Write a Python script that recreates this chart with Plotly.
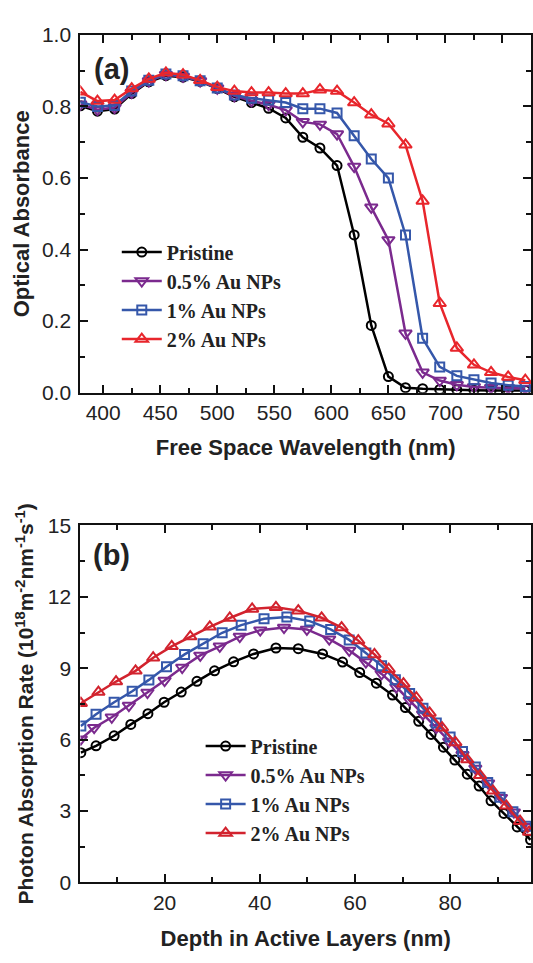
import plotly.graph_objects as go

W, H = 533, 963

# ---------------- Panel (a) data ----------------
wavelength = [380, 395, 410, 425, 440, 455, 470, 485, 500, 515, 530, 545, 560, 575,
              590, 605, 620, 635, 650, 665, 680, 695, 710, 725, 740, 755, 770]
abs_pristine = [0.802, 0.787, 0.793, 0.836, 0.869, 0.886, 0.882, 0.870, 0.850, 0.827,
                0.811, 0.795, 0.768, 0.714, 0.684, 0.635, 0.441, 0.188, 0.045, 0.014,
                0.011, 0.009, 0.008, 0.007, 0.006, 0.006, 0.006]
abs_05 = [0.806, 0.791, 0.797, 0.839, 0.871, 0.889, 0.884, 0.871, 0.851, 0.830,
          0.816, 0.805, 0.790, 0.757, 0.750, 0.723, 0.632, 0.518, 0.427, 0.166,
          0.057, 0.034, 0.022, 0.016, 0.014, 0.013, 0.012]
abs_1 = [0.812, 0.800, 0.803, 0.843, 0.873, 0.891, 0.886, 0.872, 0.852, 0.832,
         0.823, 0.818, 0.811, 0.794, 0.794, 0.782, 0.718, 0.653, 0.600, 0.441,
         0.152, 0.072, 0.047, 0.036, 0.027, 0.021, 0.017]
abs_2 = [0.841, 0.815, 0.818, 0.850, 0.877, 0.894, 0.889, 0.873, 0.854, 0.843,
         0.839, 0.839, 0.836, 0.836, 0.847, 0.843, 0.811, 0.777, 0.752, 0.693,
         0.536, 0.250, 0.125, 0.078, 0.057, 0.044, 0.035]

# ---------------- Panel (b) data ----------------
depth_pristine = [2.4, 5.6, 9.4, 12.9, 16.5, 19.9, 23.5, 26.8, 30.5, 34.5, 38.7, 43.4,
                  48.1, 53.2, 57.4, 61.0, 64.5, 67.9, 70.6, 73.4, 76.0, 78.6, 81.0,
                  83.6, 86.1, 88.6, 91.3, 94.1, 96.9]
rate_pristine = [5.45, 5.74, 6.16, 6.64, 7.09, 7.57, 8.00, 8.45, 8.89, 9.27, 9.60, 9.85,
                 9.82, 9.60, 9.26, 8.82, 8.37, 7.87, 7.35, 6.77, 6.22, 5.68, 5.14,
                 4.55, 4.05, 3.43, 2.90, 2.33, 1.79]
depth_05 = [2.4, 5.2, 8.9, 12.5, 16.4, 20.0, 23.7, 27.5, 31.6, 35.8, 40.1, 45.1, 49.9,
            54.6, 58.8, 62.3, 65.6, 68.7, 71.5, 74.3, 77.1, 79.8, 82.6, 85.3, 88.0,
            90.7, 93.4, 96.2]
rate_05 = [6.02, 6.50, 6.94, 7.43, 7.98, 8.48, 9.03, 9.54, 9.92, 10.33, 10.60, 10.71,
           10.63, 10.22, 9.75, 9.26, 8.76, 8.21, 7.66, 7.07, 6.50, 5.93, 5.36, 4.79,
           4.17, 3.56, 2.95, 2.34]
depth_1 = [2.4, 5.6, 9.4, 13.2, 16.7, 20.4, 24.2, 28.1, 32.1, 36.1, 40.9, 45.7, 50.5,
           54.9, 58.8, 62.3, 65.6, 68.5, 71.5, 74.3, 77.1, 80.0, 82.6, 85.3, 87.9,
           90.5, 93.2, 96.0]
rate_1 = [6.57, 7.07, 7.57, 8.03, 8.51, 9.06, 9.58, 10.03, 10.49, 10.81, 11.08, 11.15,
          10.98, 10.63, 10.19, 9.64, 9.10, 8.52, 7.94, 7.32, 6.70, 6.11, 5.50, 4.85,
          4.20, 3.58, 2.97, 2.36]
depth_2 = [2.4, 6.1, 9.8, 13.9, 17.6, 21.5, 25.4, 29.5, 33.7, 38.4, 43.4, 48.1, 53.0,
           57.2, 60.7, 64.1, 67.1, 70.2, 72.9, 75.7, 78.3, 81.1, 83.6, 86.3, 89.0,
           91.8, 94.7, 96.6]
rate_2 = [7.53, 8.00, 8.44, 8.89, 9.44, 9.92, 10.33, 10.74, 11.11, 11.49, 11.56, 11.42,
          11.12, 10.71, 10.16, 9.58, 8.96, 8.35, 7.76, 7.12, 6.50, 5.88, 5.16, 4.50,
          3.85, 3.22, 2.57, 2.12]

names = ["Pristine", "0.5% Au NPs", "1% Au NPs", "2% Au NPs"]
colors = ["#000000", "#7B2A8E", "#3557AA", "#E8262C"]
colors_b = ["#000000", "#7B2A8E", "#3557AA", "#D2232E"]
symbols = ["circle-open", "triangle-down-open", "square-open", "triangle-up-open"]
msizes = [9, 11, 9, 11]

series_a = [abs_pristine, abs_05, abs_1, abs_2]
series_b = [(depth_pristine, rate_pristine), (depth_05, rate_05),
            (depth_1, rate_1), (depth_2, rate_2)]

fig = go.Figure()
for i in range(4):
    fig.add_trace(go.Scatter(
        x=wavelength, y=series_a[i], name=names[i], mode="lines+markers",
        xaxis="x", yaxis="y", legend="legend",
        line=dict(color=colors[i], width=2.5),
        marker=dict(symbol=symbols[i], size=msizes[i], color=colors[i],
                    line=dict(width=2, color=colors[i]))))
for i in range(4):
    xs, ys = series_b[i]
    fig.add_trace(go.Scatter(
        x=xs, y=ys, name=names[i], mode="lines+markers",
        xaxis="x2", yaxis="y2", legend="legend2",
        line=dict(color=colors_b[i], width=2.5),
        marker=dict(symbol=symbols[i], size=msizes[i], color=colors_b[i],
                    line=dict(width=2, color=colors_b[i]))))

def pxx(x):
    return x / W

def pyy(y):
    return 1 - y / H

tickfont = dict(family="Liberation Sans, Arial", size=21, color="#222222")
titlefont = dict(family="Liberation Sans, Arial", size=22, color="#222222", weight="bold")
legfont = dict(family="Liberation Serif, Times New Roman", size=20, color="#222222",
               weight="bold")

def axis_common():
    return dict(showline=True, linewidth=2, linecolor="#111111", mirror="ticks",
                ticks="inside", ticklen=8, tickwidth=2, tickcolor="#111111",
                showgrid=False, zeroline=False, tickfont=tickfont)

def minor(dt):
    return dict(dtick=dt, tick0=0, ticks="inside", ticklen=5, tickwidth=2,
                tickcolor="#111111")

xdom = [pxx(80.5), pxx(532)]

fig.update_layout(
    width=W, height=H, margin=dict(l=0, r=0, t=0, b=0),
    paper_bgcolor="white", plot_bgcolor="white",
    xaxis=dict(**axis_common(), domain=xdom, anchor="y", range=[380, 775],
               tickmode="array", tickvals=[400, 450, 500, 550, 600, 650, 700, 750],
               minor=minor(25),
               title=dict(text="Free Space Wavelength (nm)", font=titlefont, standoff=17)),
    yaxis=dict(**axis_common(), domain=[pyy(390), pyy(23.5)], anchor="x", range=[0, 1.0],
               dtick=0.2, tick0=0, tickformat=".1f", ticklabelstandoff=3,
               minor=minor(0.1),
               title=dict(text="Optical Absorbance", font=titlefont, standoff=6)),
    xaxis2=dict(**axis_common(), domain=xdom, anchor="y2", range=[2.3, 97],
                tickmode="array", tickvals=[20, 40, 60, 80],
                minor=minor(10),
                title=dict(text="Depth in Active Layers (nm)", font=titlefont, standoff=18)),
    yaxis2=dict(**axis_common(), domain=[pyy(891.7), pyy(526)], anchor="x2", range=[0, 15],
                dtick=3, tick0=0, ticklabelstandoff=3,
                minor=minor(1.5),
                title=dict(text="Photon Absorption Rate (10<sup>18</sup>m<sup>-2</sup>nm<sup>-1</sup>s<sup>-1</sup>)",
                           font=dict(family="Liberation Sans, Arial", size=21,
                                     color="#222222", weight="bold"), standoff=8)),
    legend=dict(x=pxx(117), y=pyy(226), xanchor="left", yanchor="top",
                bgcolor="rgba(0,0,0,0)", itemwidth=40, tracegroupgap=0, font=legfont),
    legend2=dict(x=pxx(201), y=pyy(732), xanchor="left", yanchor="top",
                 bgcolor="rgba(0,0,0,0)", itemwidth=40, tracegroupgap=0, font=legfont),
    annotations=[
        dict(text="(a)", x=pxx(112), y=pyy(58), xref="paper", yref="paper",
             showarrow=False, xanchor="center", yanchor="middle",
             font=dict(family="Liberation Sans, Arial", size=29, color="#222222",
                       weight="bold")),
        dict(text="(b)", x=pxx(112), y=pyy(556), xref="paper", yref="paper",
             showarrow=False, xanchor="center", yanchor="middle",
             font=dict(family="Liberation Sans, Arial", size=29, color="#222222",
                       weight="bold")),
    ],
    showlegend=True,
)

fig.write_html("out.html", config={"displayModeBar": False},
               post_script="document.body.style.margin='0';document.body.style.overflow='hidden';")
